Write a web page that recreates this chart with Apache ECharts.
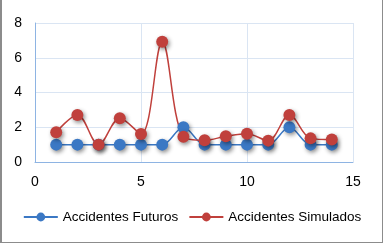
<!DOCTYPE html>
<html><head><meta charset="utf-8">
<script src="https://cdn.jsdelivr.net/npm/echarts@6/dist/echarts.min.js"></script>
<style>html,body{margin:0;padding:0;background:#fff}#c{width:383px;height:243px;box-sizing:border-box;border:1px solid #8c8c8c;border-top:none;border-left:2px solid #8c8c8c}</style>
</head><body><div id="c"></div>
<script>
const xValues = [1,2,3,4,5,6,7,8,9,10,11,12,13,14];
const futuros = [1,1,1,1,1,1,2,1,1,1,1,2,1,1];
const simulados = [1.71,2.71,1.0,2.52,1.61,6.92,1.46,1.25,1.48,1.63,1.23,2.71,1.36,1.29];
const seriesNames = ['Accidentes Futuros','Accidentes Simulados'];

const chart = echarts.init(document.getElementById('c'));
const font = 'Liberation Sans';
function mk(name, vals, color){
  return {
    name, type:'line', smooth:0.35, data: xValues.map((x,i)=>[x, vals[i]]),
    symbol:'circle', symbolSize:12,
    lineStyle:{color, width:1.5},
    itemStyle:{color, shadowColor:'rgba(0,0,0,0.45)', shadowBlur:4, shadowOffsetX:1.5, shadowOffsetY:2},
    emphasis:{disabled:true}
  };
}
chart.setOption({
  animation:false,
  grid:{left:33, right:29, top:23, bottom:80},
  legend:{bottom:13, left:'center', itemWidth:34, itemHeight:11, itemGap:10,
    textStyle:{fontFamily:font, fontSize:13.5, color:'#000'}, data:seriesNames},
  xAxis:{type:'value', min:0, max:15, interval:5,
    axisLine:{lineStyle:{color:'#8eb4e3'}}, axisTick:{show:false},
    axisLabel:{fontFamily:font, fontSize:14, color:'#000', margin:13},
    splitLine:{show:true, lineStyle:{color:'#dae5f3'}}},
  yAxis:{type:'value', min:0, max:8, interval:2,
    axisLine:{show:true, lineStyle:{color:'#8eb4e3'}}, axisTick:{show:false},
    axisLabel:{fontFamily:font, fontSize:14, color:'#000', margin:13},
    splitLine:{show:true, lineStyle:{color:'#dae5f3'}}},
  series:[mk(seriesNames[0], futuros, '#3b78c4'), mk(seriesNames[1], simulados, '#c0403c')]
});
</script></body></html>
